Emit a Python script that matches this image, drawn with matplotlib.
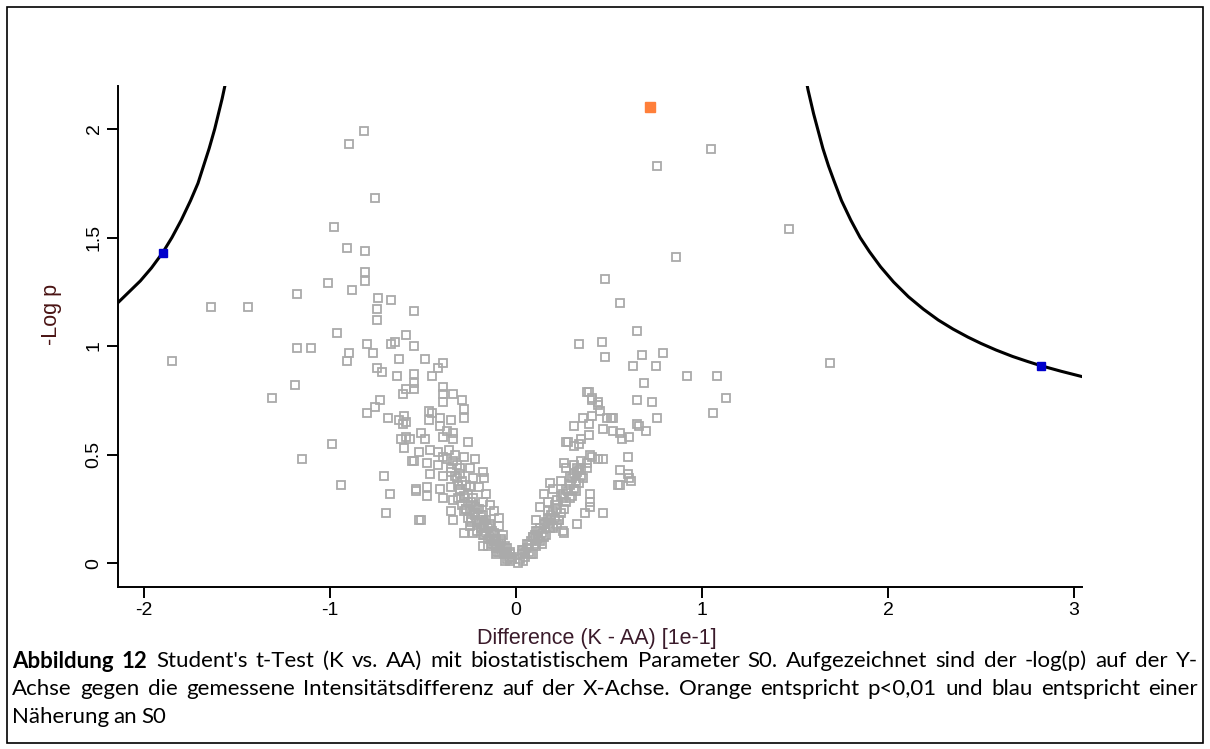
import matplotlib
matplotlib.use('Agg')
import matplotlib.pyplot as plt
from matplotlib.patches import Rectangle

# volcano points (Difference, -Log p)
gray_x = [-0.82, -0.90, -0.76, -0.98, -0.91, -0.81, -0.81, -0.81, -1.01, -0.88,
          -1.18, -1.64, -1.44, -0.74, -0.67, -0.75, -0.75, -0.55, -0.96, -1.18,
          -1.10, -0.90, -0.80, -0.77, -0.67, -0.65, -0.59, -0.55, -0.91, -0.63,
          -0.75, -0.72, -0.64, -0.55, -0.55, -0.61, -0.55, -0.59, -1.19, -1.31,
          -0.73, -0.76, -0.80, -0.69, -0.63, -0.60, -0.59, -0.61, -0.59, -0.62,
          -0.57, -0.60, -0.56, -0.99, -1.15, -0.71, -0.94, -0.68, -0.54, -0.70,
          -0.52, -1.85, -0.49, -0.39, -0.42, -0.45, -0.39, -0.39, -0.34, -0.39,
          -0.29, -0.28, -0.28, -0.47, -0.47, -0.45, -0.41, -0.35, -0.41, -0.37,
          -0.34, -0.39, -0.34, -0.26, -0.51, -0.49, -0.55, -0.52, -0.46, -0.42,
          -0.39, -0.34, -0.28, -0.22, -0.48, -0.42, -0.35, -0.30, -0.25, -0.18,
          -0.46, -0.39, -0.32, -0.23, -0.17, -0.54, -0.48, -0.48, -0.41, -0.35,
          -0.30, -0.25, -0.20, -0.16, -0.39, -0.34, -0.28, -0.23, -0.18, -0.14,
          -0.51, -0.35, -0.34, -0.28, -0.26, -0.22, -0.18, -0.12, -0.09, -0.25,
          -0.19, -0.14, -0.09, -0.28, -0.23, -0.18, -0.12, -0.07, -0.18, -0.12,
          -0.08, -0.05, -0.10, -0.03, -0.02, 0.01,
          0.04, 0.06, 0.09, 0.11, 0.15, 0.17, 0.11, 0.17, 0.20, 0.22,
          0.25, 0.13, 0.17, 0.22, 0.27, 0.15, 0.20, 0.25, 0.31, 0.18,
          0.24, 0.29, 0.34, 0.27, 0.31, 0.34, 0.26, 0.36, 0.40, 0.40,
          0.40, 0.37, 0.33, 0.26, 0.47, 0.31, 0.35, 0.27, 0.39, 0.36,
          0.31, 0.39, 0.41, 0.44, 0.45, 0.39, 0.41, 0.49, 0.52, 0.47,
          0.52, 0.56, 0.57, 0.61, 0.41, 0.44, 0.47, 0.35, 0.38, 0.31,
          0.60, 0.56, 0.60, 0.61, 0.56, 0.48, 0.63, 0.65, 0.65, 0.65,
          0.34, 0.46, 0.56, 0.68, 0.79, 0.75, 0.69, 0.73, 0.76, 0.66,
          0.70, 0.62, 0.55, 0.38, 0.41, 0.44, 0.51, 0.28, 0.34, 0.40,
          0.33, 0.38, 1.05, 0.76, 1.47, 0.86, 0.48, 0.92, 1.08, 1.13,
          1.06, 1.69,
          # dense V core
          -0.02, -0.04, -0.05, -0.06, -0.07, -0.08, -0.09, -0.10, -0.11, -0.12,
          -0.13, -0.14, -0.15, -0.16, -0.17, -0.18, -0.19, -0.20, -0.21, -0.22,
          -0.24, -0.26, -0.27, -0.29, -0.30, -0.32, -0.33, -0.36, -0.31, -0.27,
          -0.24, -0.21, -0.15, -0.11, -0.06, -0.03,
          -0.03, -0.05, -0.06, -0.08, -0.09, -0.11, -0.12, -0.13, -0.14, -0.15,
          -0.16, -0.17, -0.19, -0.20, -0.21, -0.22, -0.23, -0.24, -0.25, -0.26,
          -0.27, -0.28, -0.29, -0.30, -0.31, -0.33, -0.35, -0.37,
          0.02, 0.03, 0.05, 0.06, 0.07, 0.08, 0.10, 0.10, 0.12, 0.13,
          0.14, 0.16, 0.18, 0.19, 0.21, 0.22, 0.24, 0.25, 0.28, 0.29,
          0.32, 0.33, 0.23, 0.20, 0.14, 0.09, 0.04, 0.30, 0.35,
          0.03, 0.05, 0.07, 0.08, 0.09, 0.11, 0.12, 0.13, 0.15, 0.16,
          0.17, 0.18, 0.20, 0.21, 0.23, 0.24, 0.26, 0.27, 0.29, 0.30,
          0.32, 0.35]
gray_y = [1.99, 1.93, 1.68, 1.55, 1.45, 1.44, 1.34, 1.30, 1.29, 1.26,
          1.24, 1.18, 1.18, 1.22, 1.21, 1.17, 1.12, 1.16, 1.06, 0.99,
          0.99, 0.97, 1.01, 0.97, 1.01, 1.02, 1.05, 1.00, 0.93, 0.94,
          0.90, 0.88, 0.86, 0.87, 0.83, 0.78, 0.80, 0.80, 0.82, 0.76,
          0.75, 0.72, 0.69, 0.67, 0.66, 0.68, 0.65, 0.64, 0.58, 0.57,
          0.57, 0.53, 0.47, 0.55, 0.48, 0.40, 0.36, 0.32, 0.33, 0.23,
          0.20, 0.93, 0.94, 0.92, 0.90, 0.86, 0.81, 0.78, 0.78, 0.74,
          0.75, 0.71, 0.67, 0.70, 0.66, 0.69, 0.67, 0.66, 0.63, 0.61,
          0.60, 0.58, 0.57, 0.56, 0.60, 0.57, 0.47, 0.51, 0.52, 0.51,
          0.49, 0.47, 0.49, 0.48, 0.46, 0.45, 0.44, 0.44, 0.44, 0.42,
          0.41, 0.40, 0.39, 0.39, 0.39, 0.34, 0.35, 0.31, 0.34, 0.35,
          0.34, 0.35, 0.35, 0.32, 0.30, 0.29, 0.30, 0.30, 0.28, 0.27,
          0.20, 0.24, 0.20, 0.24, 0.21, 0.23, 0.22, 0.24, 0.21, 0.17,
          0.18, 0.18, 0.17, 0.14, 0.14, 0.13, 0.13, 0.13, 0.08, 0.09,
          0.10, 0.07, 0.05, 0.05, 0.03, 0.00,
          0.06, 0.09, 0.12, 0.15, 0.12, 0.18, 0.20, 0.21, 0.24, 0.18,
          0.15, 0.26, 0.28, 0.29, 0.28, 0.32, 0.34, 0.32, 0.34, 0.37,
          0.38, 0.40, 0.37, 0.44, 0.41, 0.43, 0.46, 0.39, 0.32, 0.28,
          0.26, 0.23, 0.18, 0.14, 0.23, 0.54, 0.57, 0.56, 0.59, 0.67,
          0.63, 0.64, 0.68, 0.74, 0.70, 0.79, 0.76, 0.67, 0.67, 0.62,
          0.61, 0.60, 0.57, 0.58, 0.49, 0.48, 0.48, 0.47, 0.46, 0.45,
          0.49, 0.43, 0.41, 0.39, 0.36, 0.95, 0.91, 0.75, 0.64, 1.07,
          1.01, 1.02, 1.20, 0.96, 0.97, 0.91, 0.83, 0.74, 0.67, 0.63,
          0.61, 0.38, 0.36, 0.79, 0.75, 0.73, 0.67, 0.56, 0.55, 0.50,
          0.44, 0.44, 1.91, 1.83, 1.54, 1.41, 1.31, 0.86, 0.86, 0.76,
          0.69, 0.92,
          0.02, 0.03, 0.05, 0.04, 0.07, 0.06, 0.09, 0.08, 0.11, 0.10,
          0.15, 0.12, 0.16, 0.14, 0.19, 0.17, 0.22, 0.20, 0.25, 0.26,
          0.28, 0.32, 0.36, 0.38, 0.41, 0.45, 0.50, 0.52, 0.30, 0.25,
          0.20, 0.15, 0.08, 0.04, 0.01, 0.01,
          0.04, 0.02, 0.08, 0.11, 0.05, 0.07, 0.14, 0.09, 0.17, 0.11,
          0.20, 0.13, 0.16, 0.25, 0.19, 0.22, 0.27, 0.19, 0.24, 0.28,
          0.25, 0.31, 0.27, 0.33, 0.36, 0.40, 0.42, 0.48,
          0.02, 0.04, 0.05, 0.07, 0.05, 0.10, 0.09, 0.13, 0.11, 0.16,
          0.14, 0.19, 0.16, 0.22, 0.21, 0.25, 0.23, 0.30, 0.33, 0.36,
          0.38, 0.42, 0.20, 0.16, 0.09, 0.04, 0.01, 0.31, 0.44,
          0.06, 0.03, 0.09, 0.04, 0.12, 0.08, 0.15, 0.10, 0.18, 0.13,
          0.24, 0.20, 0.17, 0.27, 0.20, 0.31, 0.25, 0.34, 0.30, 0.39,
          0.33, 0.40]

orange_x = [0.72]
orange_y = [2.10]
blue_x = [-1.90, 2.82]
blue_y = [1.43, 0.91]

# S0 threshold curves
left_x = [-2.14, -2.08, -2.02, -1.96, -1.90, -1.85, -1.80, -1.75, -1.71, -1.68,
          -1.65, -1.62, -1.60, -1.58, -1.56, -1.54]
left_y = [1.20, 1.25, 1.30, 1.36, 1.43, 1.50, 1.58, 1.67, 1.75, 1.83,
          1.91, 2.00, 2.07, 2.14, 2.22, 2.31]
right_x = [1.55, 1.57, 1.60, 1.625, 1.65, 1.68, 1.71, 1.75, 1.80, 1.85,
           1.90, 1.96, 2.03, 2.11, 2.19, 2.27, 2.35, 2.43, 2.50, 2.58,
           2.67, 2.75, 2.82, 2.93, 3.04]
right_y = [2.27, 2.18, 2.07, 1.99, 1.91, 1.83, 1.76, 1.67, 1.58, 1.50,
           1.435, 1.365, 1.295, 1.227, 1.17, 1.12, 1.078, 1.041, 1.012, 0.982,
           0.952, 0.929, 0.91, 0.884, 0.86]

xticks = [-2, -1, 0, 1, 2, 3]
xtick_labels = ['-2', '-1', '0', '1', '2', '3']
yticks = [0, 0.5, 1, 1.5, 2]
ytick_labels = ['0', '0.5', '1', '1.5', '2']

caption = [
    "Abbildung 12 Student's t-Test (K vs. AA) mit biostatistischem Parameter S0. Aufgezeichnet sind der -log(p) auf der Y-",
    "Achse gegen die gemessene Intensitätsdifferenz auf der X-Achse. Orange entspricht p<0,01 und blau entspricht einer",
    "Näherung an S0",
]

W, H = 1210, 749
fig = plt.figure(figsize=(W / 100, H / 100), dpi=100)
fig.patch.set_facecolor('white')
plt.rcParams['font.family'] = ['Liberation Sans', 'DejaVu Sans']

# frame round the whole figure
fig.patches.append(Rectangle((7 / W, 6 / H), 1196 / W, 736 / H, transform=fig.transFigure,
                             fill=False, edgecolor='black', linewidth=1.2))

ax = fig.add_axes([118 / W, 1 - 587 / H, 964 / W, 501 / H])
ax.set_xlim(-2.14, 3.043)
ax.set_ylim(-0.11, 2.198)

ax.plot(gray_x, gray_y, linestyle='none', marker='s', markersize=5.8, markerfacecolor='none',
        markeredgecolor='#aaaaaa', markeredgewidth=1.3)
ax.plot(left_x, left_y, color='black', linewidth=2.2, solid_joinstyle='round')
ax.plot(right_x, right_y, color='black', linewidth=2.2, solid_joinstyle='round')
ax.plot(blue_x, blue_y, linestyle='none', marker='s', markersize=6, color='#0000cc')
ax.plot(orange_x, orange_y, linestyle='none', marker='s', markersize=6.5, color='#ff7f3a')

for s in ['top', 'right']:
    ax.spines[s].set_visible(False)
for s in ['left', 'bottom']:
    ax.spines[s].set_linewidth(1.4)

ax.set_xticks(xticks)
ax.set_xticklabels(xtick_labels)
ax.set_yticks(yticks)
ax.set_yticklabels(ytick_labels, rotation=90, va='center')
ax.tick_params(direction='out', length=8, width=1.4, labelsize=14, pad=3, colors='black')

ax.set_xlabel('Difference (K - AA) [1e-1]', fontsize=15.5, color='#3a1a2a')
ax.xaxis.set_label_coords(0.497, -0.082)
ax.set_ylabel('-Log p', fontsize=15.5, color='#4a1414')
ax.yaxis.set_label_coords(-0.058, 0.545)

# caption, justified word by word like the original
r = fig.canvas.get_renderer()
x0, x1 = 12 / W, 1198 / W
cap_font = ['Lato', 'DejaVu Sans']
probe = fig.text(0, 0, caption[0], fontsize=12, family=cap_font)
cap_size = 12 * 1135 / probe.get_window_extent(r).width
probe.remove()

line_y = [1 - 661 / H, 1 - 689 / H, 1 - 717 / H]
for li, line in enumerate(caption):
    words = line.split(' ')
    texts = []
    for wi, w in enumerate(words):
        bold = li == 0 and wi < 2
        texts.append(fig.text(0, line_y[li], w, fontsize=cap_size, family=cap_font,
                              weight='bold' if bold else 'normal', va='center', ha='left'))
    widths = [t.get_window_extent(r).width / W for t in texts]
    if li < len(caption) - 1:
        gap = (x1 - x0 - sum(widths)) / (len(words) - 1)
    else:
        gap = 4.5 / W
    x = x0
    for t, wd in zip(texts, widths):
        t.set_x(x)
        x += wd + gap

fig.savefig('out.png', dpi=100)
